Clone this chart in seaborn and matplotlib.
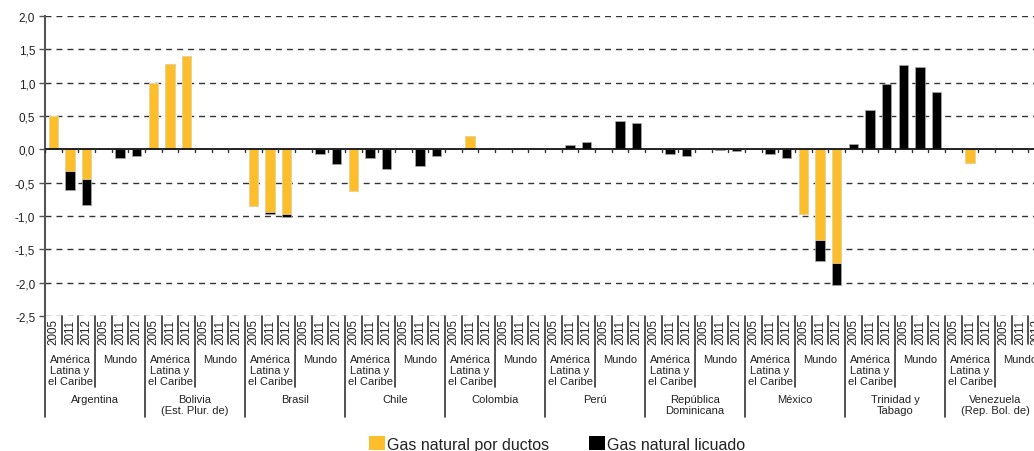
import numpy as np
import pandas as pd
import matplotlib
matplotlib.use("Agg")
import matplotlib.pyplot as plt
from matplotlib.patches import Patch
import seaborn as sns

# ---------------- data ----------------
countries = ["Argentina", "Bolivia\n(Est. Plur. de)", "Brasil", "Chile", "Colombia",
             "Perú", "República\nDominicana", "México", "Trinidad y\nTabago",
             "Venezuela\n(Rep. Bol. de)"]
regions = ["América\nLatina y\nel Caribe", "Mundo"]
years = ["2005", "2011", "2012"]

ductos_arg = [0.50, -0.33, -0.44, 0, 0, 0]
ductos_bol = [1.00, 1.285, 1.405, 0, 0, 0]
ductos_bra = [-0.855, -0.945, -0.975, 0, 0, 0]
ductos_chi = [-0.625, 0, 0, 0, 0, 0]
ductos_col = [0, 0.205, 0, 0, 0, 0]
ductos_per = [0, 0, 0, 0, 0, 0]
ductos_dom = [0, 0, 0, 0, 0, 0]
ductos_mex = [0, 0, 0, -0.975, -1.355, -1.70]
ductos_tt = [0, 0, 0, 0, 0, 0]
ductos_ven = [0, -0.205, 0, 0, 0, 0]

licuado_arg = [0, -0.285, -0.39, 0, -0.13, -0.10]
licuado_bol = [0, 0, 0, 0, 0, 0]
licuado_bra = [0, -0.02, -0.035, 0, -0.075, -0.215]
licuado_chi = [0, -0.135, -0.295, 0, -0.25, -0.10]
licuado_col = [0, 0, 0, 0, 0, 0]
licuado_per = [0, 0.06, 0.115, 0, 0.425, 0.40]
licuado_dom = [0, -0.075, -0.095, 0, -0.005, -0.02]
licuado_mex = [0, -0.065, -0.13, 0, -0.325, -0.33]
licuado_tt = [0.085, 0.585, 0.985, 1.265, 1.235, 0.855]
licuado_ven = [0, 0, 0, 0, 0, 0]

y_ticks = [2.0, 1.5, 1.0, 0.5, 0.0, -0.5, -1.0, -1.5, -2.0, -2.5]
legend_labels = ["Gas natural por ductos", "Gas natural licuado"]

ductos = (ductos_arg + ductos_bol + ductos_bra + ductos_chi + ductos_col +
          ductos_per + ductos_dom + ductos_mex + ductos_tt + ductos_ven)
licuado = (licuado_arg + licuado_bol + licuado_bra + licuado_chi + licuado_col +
           licuado_per + licuado_dom + licuado_mex + licuado_tt + licuado_ven)

cats, cty_col, reg_col, yr_col = [], [], [], []
for c in countries:
    for r in regions:
        for y in years:
            cats.append(f"{c}|{r}|{y}")
            cty_col.append(c); reg_col.append(r); yr_col.append(y)

df = pd.DataFrame({"cat": cats, "country": cty_col, "region": reg_col, "year": yr_col,
                   "ductos": ductos, "licuado": licuado})
df["total"] = df["ductos"] + df["licuado"]

YELLOW = "#FDBE2C"
TXT = "#222222"

# ---------------- figure ----------------
sns.set_style("white")
plt.rcParams["font.family"] = ["Liberation Sans", "DejaVu Sans"]

fig = plt.figure(figsize=(10.34, 4.52), dpi=100)
ax = fig.add_axes([45 / 1034, 135 / 452, 1000 / 1034, 300 / 452])

# grid
for v in y_ticks:
    if v != 0:
        ax.axhline(v, color="#333333", lw=1.0, dashes=(4.3, 3.6), zorder=0)

sns.barplot(data=df, x="cat", y="total", order=cats, color="black", saturation=1,
            width=0.57, errorbar=None, ax=ax, edgecolor="#aaaaaa", linewidth=0.5, zorder=2)
sns.barplot(data=df, x="cat", y="ductos", order=cats, color=YELLOW, saturation=1,
            width=0.57, errorbar=None, ax=ax, edgecolor="#f5e3b0", linewidth=0.5, zorder=3)

ax.axhline(0, color="#111111", lw=1.3, zorder=4)

n = len(cats)
ax.set_xlim(-0.5, n - 0.5)
ax.set_ylim(-2.5, 2.0)
ax.set_yticks(y_ticks)
ax.set_yticklabels([f"{v:.1f}".replace(".", ",") for v in y_ticks], fontsize=8.5, color=TXT)
ax.set_xticks([])
ax.set_xlabel("")
ax.set_ylabel("")
ax.tick_params(axis="y", length=4, width=1, color="#555555", left=True, pad=3)
for s in ["top", "right", "bottom"]:
    ax.spines[s].set_visible(False)
ax.spines["left"].set_color("#555555")
ax.spines["left"].set_linewidth(1.5)

trans = ax.get_xaxis_transform()
# small ticks on the zero line
for b in range(n + 1):
    ax.plot([b - 0.5, b - 0.5], [0, -0.045], color="#333333", lw=1, zorder=5)

# separators in label area
H = 300.0
for b in range(n + 1):
    if b % 6 == 0:
        yb = -(418 - 317) / H
    elif b % 3 == 0:
        yb = -(388 - 317) / H
    else:
        yb = -(345 - 317) / H
    ax.plot([b - 0.5, b - 0.5], [0, yb], color="#333333", lw=1.2,
            transform=trans, clip_on=False)

# year labels
for i, y in enumerate(yr_col):
    ax.text(i, -(332 - 317) / H, y, rotation=90, ha="center", va="center",
            fontsize=8.4, color=TXT, transform=trans, clip_on=False)
# region labels
for k in range(len(countries) * len(regions)):
    ax.text(k * 3 + 1, -(355 - 317) / H, regions[k % 2], ha="center", va="top",
            fontsize=8, color=TXT, linespacing=1.12, transform=trans, clip_on=False)
# country labels
for k, c in enumerate(countries):
    ax.text(k * 6 + 2.5, -(395 - 317) / H, c, ha="center", va="top",
            fontsize=8, color=TXT, linespacing=1.12, transform=trans, clip_on=False)

handles = [Patch(facecolor=YELLOW, edgecolor="none", label=legend_labels[0]),
           Patch(facecolor="black", edgecolor="none", label=legend_labels[1])]
fig.legend(handles=handles, loc="center", bbox_to_anchor=(557 / 1034, 7 / 452), ncol=2,
           frameon=False, fontsize=11.5, handlelength=1.0, handleheight=1.0,
           handletextpad=0.15, columnspacing=2.5, borderpad=0, labelcolor=TXT)

fig.savefig("out.png", dpi=100)
